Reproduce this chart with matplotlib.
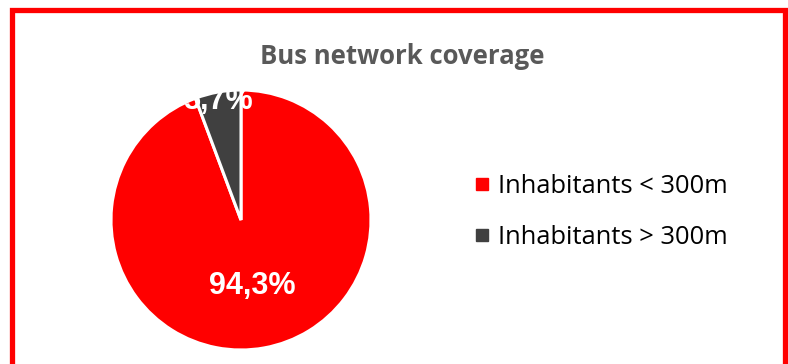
import matplotlib
matplotlib.use("Agg")
import matplotlib.pyplot as plt
from matplotlib.patches import Rectangle
from matplotlib.lines import Line2D

# data
categories = ["Inhabitants < 300m", "Inhabitants > 300m"]
shares = [94.3, 5.7]
colors = ["#FF0000", "#404040"]
title = "Bus network coverage"

W, H = 788, 364
fig = plt.figure(figsize=(W / 100, H / 100), dpi=100)
plt.rcParams['font.family'] = ['Open Sans', 'DejaVu Sans']

# red frame round the chart (bottom edge falls outside the picture)
frame = Rectangle((12 / W, -0.05), (785 - 12) / W, 354 / H + 0.05,
                  transform=fig.transFigure, fill=False, edgecolor="#FF0000",
                  linewidth=3.8, clip_on=False)
fig.patches.append(frame)

fig.text(402 / W, 1 - 56 / H, title, ha="center", va="center",
         fontsize=18.5, fontweight="bold", color="#595959")

# pie axes, center ~ (241,220) px, radius ~130 px
ax = fig.add_axes([111 / W, 14 / H, 260 / W, 260 / H])
wedges, _ = ax.pie(shares, colors=colors, startangle=90, counterclock=False,
                   wedgeprops=dict(edgecolor="white", linewidth=2.2))
ax.set_xlim(-1, 1)
ax.set_ylim(-1, 1)
ax.set_aspect("equal")

# labels, formatted with a decimal comma
label_pos = [(0.085, -0.505), (-0.177, 0.915)]
for val, (lx, ly) in zip(shares, label_pos):
    ax.text(lx, ly, f"{val:.1f}%".replace(".", ","), ha="center", va="center",
            fontsize=22, fontweight="bold", color="white",
            family=["Liberation Sans", "DejaVu Sans"])

handles = [Line2D([], [], marker="s", linestyle="none", markersize=8,
                  markerfacecolor=c, markeredgecolor=c) for c in colors]
fig.legend(handles, categories, loc="center left",
           bbox_to_anchor=(449 / W, 1 - 212 / H), frameon=False,
           fontsize=18.4, handletextpad=0.2, labelspacing=1.0, handlelength=0.8)

fig.savefig("out.png", dpi=100)
